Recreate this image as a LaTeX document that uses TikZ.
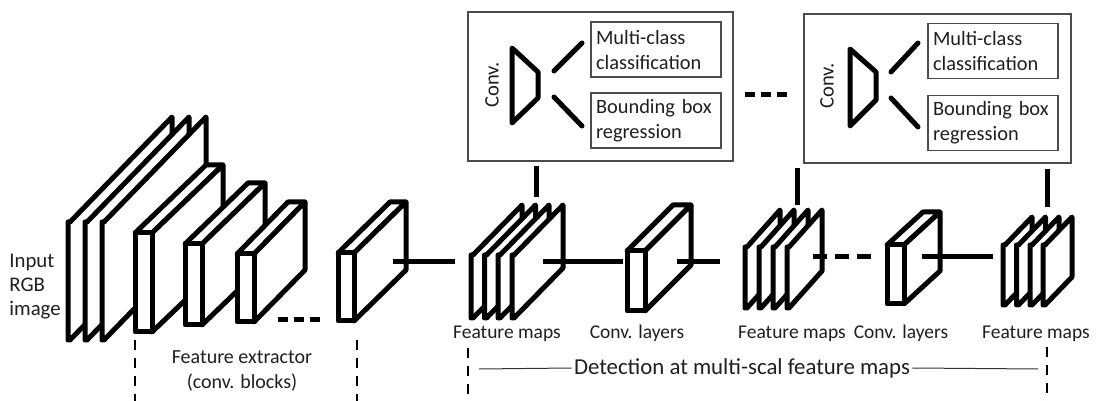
\documentclass[tikz,border=0pt]{standalone}
\usepackage{fontspec}
\setmainfont{Carlito}
\newcommand{\cub}[6]{%
  \draw[shp] (#1,#2) -- ++(#3,0) -- ++(#5,-#6) -- ++(-#3,0) -- cycle;
  \draw[shp] (#1+#3,#2) -- ++(#5,-#6) -- ++(0,#4) -- ++(-#5,#6) -- cycle;
  \draw[shp] (#1,#2) rectangle ++(#3,#4);
}
\newcommand{\sheet}[5]{%
  \draw[shp] (#1,#2+#3) -- (#1,#2) -- ++(2,0) -- ++(#4,-#5) -- ++(0,#3) -- ++(-#4,#5) -- cycle;
}
\begin{document}
\begin{tikzpicture}[x=0.5pt,y=-0.5pt,
  shp/.style={draw=black,fill=white,line width=2.5pt,line join=round},
  conn/.style={draw=black,line width=2.5pt},
  frame/.style={draw=black!70,line width=0.7pt},
  vdash/.style={draw=black,line width=1.4pt,dash pattern=on 5pt off 4pt},
  thin/.style={draw=black!80,line width=0.5pt},
  txt/.style={font=\fontsize{9.75}{12}\selectfont,text=black!88,inner sep=0pt},
  lab/.style={txt,anchor=base},
  ibox/.style={frame,font=\fontsize{10.2}{12.5}\selectfont,text=black!88,inner xsep=2.5pt,inner ysep=0pt,
     text width=60pt,align=left,minimum height=27.5pt}]
\useasboundingbox (0,0) rectangle (1100,401);
% ---- input sheets
\sheet{68}{222}{118}{102}{105}
\sheet{85}{222}{118}{102}{105}
\sheet{102}{222}{118}{102}{105}
% ---- feature extractor blocks
\cub{135}{233}{17}{99}{71}{68}
\cub{185}{244}{17}{81}{63}{61}
\cub{237}{254}{17}{68}{51}{52}
\cub{338}{253}{16}{68}{52}{51}
% ---- feature maps 1
\sheet{471}{255}{63}{49}{50}
\sheet{484.5}{255}{63}{49}{50}
\sheet{498}{255}{63}{49}{50}
\sheet{512}{255}{63}{49}{50}
% ---- conv layers 1
\cub{627}{251}{18}{60}{46}{46}
% ---- feature maps 2
\sheet{745}{247}{61}{33}{37}
\sheet{759}{247}{61}{33}{37}
\sheet{773}{247}{61}{33}{37}
\sheet{787}{247}{61}{33}{37}
% ---- conv layers 2
\cub{887}{245}{17}{59}{36}{33}
% ---- feature maps 3
\sheet{1003}{245}{60}{27}{28}
\sheet{1016.5}{245}{60}{27}{28}
\sheet{1030}{245}{60}{27}{28}
\sheet{1043}{245}{60}{27}{28}
% ---- connector coordinates
\coordinate (b3e) at (278,320); \coordinate (b4w) at (320,320);
\coordinate (b4r) at (393,262); \coordinate (fm1l) at (455,262);
\coordinate (fm1r) at (543,262); \coordinate (cv1l) at (623,262);
\coordinate (cv1r) at (677,262); \coordinate (fm2l) at (720,262);
\coordinate (fm2r) at (813,257); \coordinate (cv2l) at (872,257);
\coordinate (cv2r) at (922,257); \coordinate (fm3l) at (993,257);
\coordinate (fm1t) at (536,197); \coordinate (fm2t) at (797,205);
\coordinate (fm3t) at (1047,207);
\draw[conn,dash pattern=on 5pt off 3pt] (b3e) -- (b4w);
\draw[conn] (b4r) -- (fm1l);
\draw[conn] (fm1r) -- (cv1l);
\draw[conn] (cv1r) -- (fm2l);
\draw[conn,dash pattern=on 7pt off 4pt] (fm2r) -- (cv2l);
\draw[conn] (cv2r) -- (fm3l);
% ---- detection boxes
\node[frame,minimum width=132.5pt,minimum height=74.5pt,inner sep=0pt] (det1) at (600.5,86.5) {};
\node[frame,minimum width=133.5pt,minimum height=74.5pt,inner sep=0pt] (det2) at (937.5,88.5) {};
\draw[conn] (fm1t) -- ([yshift=-2pt]fm1t |- det1.south);
\draw[conn] (fm2t) -- ([yshift=-3pt]fm2t |- det1.south);
\draw[conn] (fm3t) -- ([yshift=-2.5pt]fm3t |- det2.south);
\node[ibox] (mc1) at (656,49.5) {Multi-class\\classification};
\node[ibox] (bb1) at (656,120.5) {Bounding box\\regression};
\node[ibox] (mc2) at (993,51) {Multi-class\\classification};
\node[ibox] (bb2) at (993,123) {Bounding box\\regression};
\node[txt,rotate=90,font=\fontsize{10.3}{12}\selectfont] (cv1) at (492,85) {Conv.};
\node[txt,rotate=90,font=\fontsize{10.3}{12}\selectfont] (cv2) at (827,86) {Conv.};
\draw[conn,line join=round] (512,48) -- (538,72) -- (538,98) -- (512,123) -- cycle;
\draw[conn,line cap=round] (554,71) -- (582,43);
\draw[conn,line cap=round] (554,97) -- (582,126);
\draw[conn,line join=round] (850,49) -- (876,72) -- (876,100) -- (850,126) -- cycle;
\draw[conn,line cap=round] (891,72) -- (918,43);
\draw[conn,line cap=round] (891,98) -- (918,127);
\coordinate (dd1) at (745,95); \coordinate (dd2) at (787,95);
\draw[conn,dash pattern=on 5pt off 3pt] (dd1) -- (dd2);
% ---- texts
\node[txt,align=left,anchor=west,font=\fontsize{10.4}{12}\selectfont] (inp) at (9,287) {Input\\RGB\\image};
\node[txt,align=center,font=\fontsize{10}{12.5}\selectfont] (fe) at (242,371) {Feature extractor\\(conv. blocks)};
\node[lab] (l1) at (507,339) {Feature maps};
\node[lab] (l2) at (637,339) {Conv. layers};
\node[lab] (l3) at (792,339) {Feature maps};
\node[lab] (l4) at (901,339) {Conv. layers};
\node[lab] (l5) at (1036,339) {Feature maps};
\node[txt,font=\fontsize{11.4}{13}\selectfont] (det) at (742,368) {Detection at multi-scal feature maps};
\draw[thin] (479,369) -- ([xshift=-1pt]det.west);
\draw[thin] ([xshift=1pt]det.east) -- (1038,369);
% ---- dashed verticals
\draw[vdash] (135,340) -- (135,401);
\draw[vdash] (357,340) -- (357,401);
\draw[vdash] (468,348) -- (468,401);
\draw[vdash] (1047,347) -- (1047,401);
\end{tikzpicture}
\end{document}
